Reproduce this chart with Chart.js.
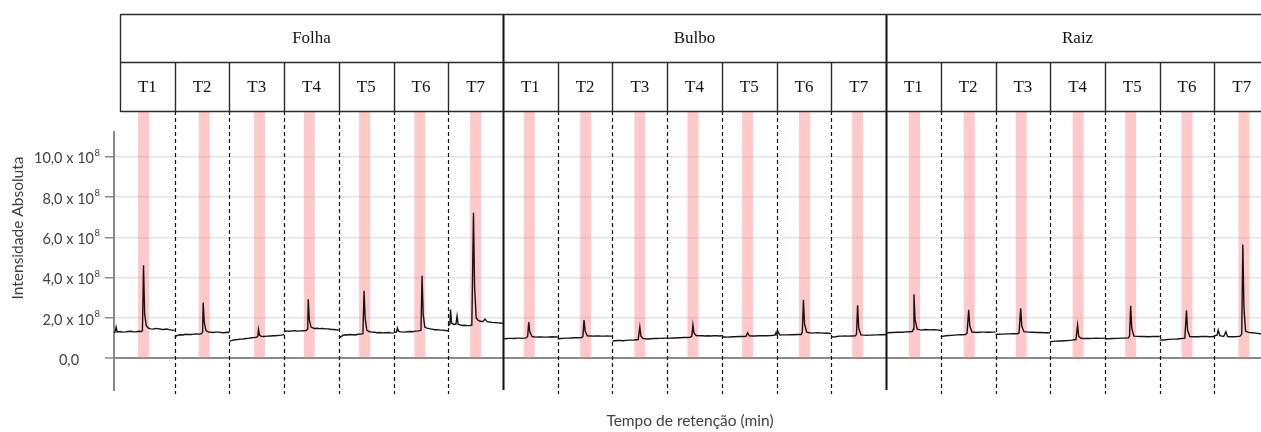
<!DOCTYPE html>
<html>
<head>
<meta charset="utf-8">
<script src="https://cdn.jsdelivr.net/npm/chart.js@4.4.1/dist/chart.umd.min.js"></script>
<style>
  html, body { margin: 0; padding: 0; background: #ffffff; }
  canvas { display: block; }
</style>
</head>
<body>
<canvas id="chrom" width="1261" height="432"></canvas>
<script>
// Sample groups and treatments (one retention-time window per treatment)
const groupNames = ['Folha', 'Bulbo', 'Raiz'];
const treatments = ['T1', 'T2', 'T3', 'T4', 'T5', 'T6', 'T7'];

// Y axis ticks (intensity in units of 10^8)
const yTickValues = [0, 2, 4, 6, 8, 10];
const yTickLabels = ['0,0', '2,0 x 10', '4,0 x 10', '6,0 x 10', '8,0 x 10', '10,0 x 10'];
const yTickExponent = '8';

// Highlighted retention window of the target compound (centre, inside each window 0–1)
const folhaBands = [0.43, 0.54, 0.55, 0.46, 0.47, 0.48, 0.50];
const bulboBands = [0.48, 0.51, 0.50, 0.47, 0.47, 0.51, 0.48];
const raizBands  = [0.52, 0.52, 0.47, 0.51, 0.47, 0.50, 0.54];

// Chromatogram traces: [position inside window, intensity x10^8]
const folhaTraces = [
  [[-0.11,1.25],[-0.09,1.30],[-0.07,1.55],[-0.05,1.30],[0.00,1.33],[0.05,1.30],[0.10,1.31],[0.15,1.33],[0.20,1.34],[0.25,1.31],[0.30,1.32],[0.35,1.34],[0.39,1.33],[0.41,1.36],[0.43,4.62],[0.45,2.20],[0.48,1.62],[0.52,1.50],[0.56,1.46],[0.60,1.45],[0.65,1.48],[0.70,1.47],[0.75,1.44],[0.80,1.43],[0.85,1.45],[0.90,1.42],[0.95,1.40],[1.00,1.38]],
  [[0.00,1.02],[0.03,1.12],[0.06,1.15],[0.10,1.17],[0.15,1.16],[0.20,1.19],[0.25,1.18],[0.30,1.18],[0.35,1.20],[0.40,1.21],[0.45,1.20],[0.49,1.22],[0.51,1.30],[0.52,2.76],[0.54,1.80],[0.57,1.38],[0.62,1.30],[0.66,1.29],[0.70,1.28],[0.75,1.30],[0.80,1.30],[0.85,1.28],[0.90,1.27],[0.95,1.29],[1.00,1.28]],
  [[0.00,0.85],[0.05,0.89],[0.10,0.92],[0.15,0.93],[0.20,0.95],[0.25,0.96],[0.30,0.98],[0.35,0.99],[0.40,1.02],[0.45,1.03],[0.50,1.05],[0.52,1.10],[0.53,1.43],[0.55,1.15],[0.58,1.09],[0.62,1.08],[0.70,1.10],[0.75,1.11],[0.80,1.12],[0.85,1.12],[0.90,1.14],[0.95,1.15],[1.00,1.18]],
  [[0.00,1.30],[0.02,1.36],[0.06,1.35],[0.10,1.34],[0.15,1.36],[0.20,1.37],[0.25,1.35],[0.30,1.36],[0.35,1.37],[0.40,1.38],[0.43,1.45],[0.44,2.93],[0.46,1.90],[0.49,1.55],[0.55,1.48],[0.60,1.49],[0.65,1.47],[0.70,1.48],[0.75,1.46],[0.80,1.46],[0.85,1.44],[0.90,1.43],[0.95,1.42],[1.00,1.40]],
  [[0.00,1.12],[0.03,1.05],[0.08,1.15],[0.12,1.17],[0.16,1.16],[0.20,1.18],[0.25,1.17],[0.30,1.16],[0.35,1.19],[0.40,1.20],[0.44,1.22],[0.46,3.35],[0.48,2.00],[0.51,1.40],[0.55,1.33],[0.60,1.30],[0.65,1.29],[0.70,1.27],[0.75,1.28],[0.80,1.26],[0.85,1.27],[0.90,1.28],[0.95,1.26],[1.00,1.25]],
  [[0.00,1.28],[0.05,1.30],[0.07,1.50],[0.09,1.35],[0.13,1.31],[0.20,1.30],[0.25,1.32],[0.30,1.33],[0.35,1.32],[0.40,1.35],[0.45,1.36],[0.50,1.38],[0.52,4.10],[0.54,2.20],[0.57,1.55],[0.61,1.50],[0.65,1.47],[0.70,1.45],[0.75,1.42],[0.80,1.42],[0.85,1.40],[0.90,1.40],[0.95,1.38],[1.00,1.37]],
  [[0.00,1.60],[0.03,1.70],[0.04,2.42],[0.06,1.75],[0.10,1.68],[0.14,1.70],[0.16,2.10],[0.18,1.68],[0.22,1.66],[0.25,1.63],[0.30,1.64],[0.35,1.62],[0.40,1.63],[0.43,1.65],[0.46,7.22],[0.48,3.50],[0.51,2.00],[0.54,1.90],[0.57,1.85],[0.63,1.82],[0.67,1.95],[0.71,1.82],[0.75,1.80],[0.80,1.78],[0.85,1.77],[0.90,1.76],[0.95,1.75],[1.00,1.73]]
];

const bulboTraces = [
  [[0.00,0.98],[0.05,0.97],[0.10,0.99],[0.15,0.99],[0.20,0.98],[0.25,1.00],[0.30,1.00],[0.35,0.99],[0.42,1.01],[0.45,1.08],[0.47,1.80],[0.49,1.30],[0.53,1.08],[0.60,1.05],[0.65,1.06],[0.70,1.06],[0.75,1.05],[0.80,1.05],[0.85,1.06],[0.90,1.07],[0.95,1.06],[1.00,1.06]],
  [[0.00,0.95],[0.05,0.98],[0.10,0.99],[0.15,1.00],[0.20,1.00],[0.25,1.01],[0.30,1.02],[0.37,1.02],[0.44,1.03],[0.46,1.10],[0.48,1.90],[0.50,1.35],[0.54,1.12],[0.60,1.11],[0.65,1.10],[0.70,1.11],[0.75,1.11],[0.80,1.10],[0.85,1.10],[0.90,1.11],[0.95,1.10],[1.00,1.10]],
  [[0.00,0.86],[0.05,0.87],[0.10,0.88],[0.15,0.88],[0.20,0.87],[0.25,0.89],[0.30,0.90],[0.35,0.90],[0.40,0.91],[0.47,0.93],[0.50,1.55],[0.52,1.10],[0.56,0.98],[0.60,0.97],[0.65,0.96],[0.70,0.97],[0.75,0.98],[0.80,0.98],[0.85,0.99],[0.90,0.99],[0.95,1.00],[1.00,1.00]],
  [[0.00,1.00],[0.05,1.00],[0.10,1.01],[0.15,1.01],[0.20,1.02],[0.25,1.02],[0.30,1.03],[0.36,1.03],[0.42,1.04],[0.45,1.10],[0.47,1.66],[0.49,1.25],[0.53,1.13],[0.60,1.12],[0.65,1.12],[0.70,1.11],[0.75,1.12],[0.80,1.11],[0.85,1.12],[0.90,1.12],[0.95,1.11],[1.00,1.12]],
  [[0.00,1.06],[0.05,1.06],[0.10,1.05],[0.15,1.06],[0.20,1.07],[0.25,1.07],[0.30,1.08],[0.37,1.08],[0.44,1.09],[0.47,1.27],[0.50,1.12],[0.55,1.11],[0.60,1.11],[0.67,1.12],[0.75,1.12],[0.82,1.12],[0.90,1.13],[0.97,1.15],[0.99,1.28],[1.00,1.14]],
  [[0.00,1.17],[0.03,1.30],[0.06,1.15],[0.10,1.16],[0.15,1.16],[0.20,1.16],[0.25,1.17],[0.30,1.17],[0.38,1.18],[0.45,1.18],[0.47,1.30],[0.49,2.90],[0.51,1.70],[0.55,1.30],[0.60,1.27],[0.65,1.25],[0.70,1.26],[0.75,1.27],[0.80,1.26],[0.85,1.25],[0.90,1.24],[0.95,1.24],[1.00,1.22]],
  [[0.00,1.08],[0.05,1.05],[0.10,1.08],[0.15,1.10],[0.20,1.10],[0.25,1.11],[0.30,1.10],[0.37,1.11],[0.44,1.12],[0.46,1.20],[0.48,2.63],[0.50,1.50],[0.54,1.16],[0.60,1.15],[0.65,1.14],[0.70,1.15],[0.75,1.15],[0.80,1.16],[0.85,1.16],[0.90,1.17],[0.95,1.17],[1.00,1.18]]
];

const raizTraces = [
  [[0.00,1.26],[0.05,1.27],[0.10,1.28],[0.15,1.28],[0.20,1.30],[0.25,1.29],[0.30,1.29],[0.36,1.31],[0.42,1.32],[0.48,1.33],[0.50,1.45],[0.51,3.18],[0.53,1.90],[0.57,1.45],[0.61,1.42],[0.65,1.40],[0.72,1.43],[0.76,1.42],[0.80,1.41],[0.85,1.42],[0.90,1.42],[0.95,1.40],[1.00,1.38]],
  [[0.00,1.07],[0.05,1.10],[0.10,1.12],[0.15,1.13],[0.20,1.14],[0.25,1.15],[0.30,1.16],[0.37,1.17],[0.45,1.18],[0.48,1.25],[0.51,2.40],[0.53,1.60],[0.57,1.30],[0.61,1.29],[0.65,1.28],[0.70,1.29],[0.75,1.30],[0.80,1.30],[0.85,1.29],[0.90,1.29],[0.95,1.30],[1.00,1.30]],
  [[0.00,1.18],[0.05,1.19],[0.10,1.20],[0.15,1.20],[0.20,1.21],[0.25,1.21],[0.32,1.22],[0.40,1.22],[0.43,1.25],[0.46,2.48],[0.48,1.60],[0.52,1.32],[0.56,1.31],[0.60,1.30],[0.67,1.29],[0.75,1.28],[0.82,1.28],[0.90,1.27],[0.95,1.27],[1.00,1.26]],
  [[0.00,0.82],[0.05,0.84],[0.10,0.85],[0.15,0.86],[0.20,0.86],[0.25,0.87],[0.32,0.88],[0.40,0.90],[0.47,0.93],[0.50,1.65],[0.52,1.10],[0.56,0.99],[0.62,0.98],[0.70,0.98],[0.77,0.99],[0.85,1.00],[0.92,0.99],[1.00,1.00]],
  [[0.00,0.96],[0.07,0.97],[0.15,0.98],[0.22,0.99],[0.30,1.00],[0.37,1.00],[0.43,1.01],[0.45,1.10],[0.47,2.60],[0.49,1.50],[0.53,1.10],[0.59,1.09],[0.65,1.08],[0.72,1.08],[0.80,1.07],[0.87,1.08],[0.94,1.08],[1.00,1.08]],
  [[0.00,0.90],[0.05,0.91],[0.10,0.92],[0.17,0.94],[0.25,0.95],[0.32,0.96],[0.40,0.98],[0.46,1.00],[0.49,2.38],[0.51,1.40],[0.55,1.08],[0.62,1.07],[0.70,1.07],[0.77,1.08],[0.85,1.08],[0.92,1.07],[1.00,1.08]],
  [[0.00,1.12],[0.05,1.15],[0.07,1.40],[0.10,1.12],[0.14,1.10],[0.17,1.08],[0.21,1.32],[0.24,1.08],[0.30,1.07],[0.35,1.07],[0.41,1.08],[0.47,1.10],[0.50,1.20],[0.52,5.65],[0.54,2.50],[0.57,1.35],[0.61,1.30],[0.65,1.28],[0.70,1.27],[0.75,1.25],[0.80,1.23],[0.85,1.22],[1.00,1.20]]
];

const allTraces = [folhaTraces, bulboTraces, raizTraces];
const allBands = [folhaBands, bulboBands, raizBands];
const windowsPerGroup = treatments.length;

// One line dataset per treatment window, placed side by side on the x axis
const datasets = [];
allTraces.forEach((group, g) => {
  group.forEach((trace, t) => {
    const offset = g * windowsPerGroup + t;
    datasets.push({
      label: groupNames[g] + ' ' + treatments[t],
      data: trace.map(p => ({ x: offset + p[0], y: p[1] })),
      borderColor: '#141414',
      borderWidth: 1.4,
      pointRadius: 0,
      tension: 0,
      fill: false
    });
  });
});

const HEADER_TOP = 14;
const HEADER_MID = 62;
const HEADER_BOTTOM = 111;
const SEPARATOR_BOTTOM = 394;

const chromatogramDecor = {
  id: 'chromatogramDecor',
  beforeDatasetsDraw(chart) {
    const { ctx, scales: { x, y } } = chart;
    const yZero = y.getPixelForValue(0);
    ctx.save();
    ctx.fillStyle = 'rgba(255, 120, 120, 0.40)';
    allBands.forEach((bands, g) => {
      bands.forEach((c, t) => {
        const offset = g * windowsPerGroup + t;
        const x0 = x.getPixelForValue(offset + c - 0.1);
        const x1 = x.getPixelForValue(offset + c + 0.1);
        ctx.fillRect(x0, HEADER_BOTTOM, x1 - x0, yZero - HEADER_BOTTOM);
      });
    });
    ctx.restore();
  },
  afterDraw(chart) {
    const { ctx, scales: { x, y }, chartArea } = chart;
    const total = groupNames.length * windowsPerGroup;
    const W = chart.width;
    ctx.save();

    // window separators: dashed between treatments, solid between groups
    for (let i = 1; i < total; i++) {
      const px = Math.round(x.getPixelForValue(i)) + 0.5;
      const isGroup = i % windowsPerGroup === 0;
      ctx.beginPath();
      if (isGroup) {
        ctx.setLineDash([]);
        ctx.lineWidth = 2;
        ctx.strokeStyle = '#111';
        ctx.moveTo(px, HEADER_TOP);
        ctx.lineTo(px, chartArea.bottom);
      } else {
        ctx.setLineDash([4, 3]);
        ctx.lineWidth = 1.2;
        ctx.strokeStyle = '#111';
        ctx.moveTo(px, HEADER_BOTTOM);
        ctx.lineTo(px, SEPARATOR_BOTTOM);
      }
      ctx.stroke();
    }
    ctx.setLineDash([]);

    // header table
    const left = Math.round(x.getPixelForValue(0)) + 0.5;
    ctx.strokeStyle = '#2a2a2a';
    ctx.lineWidth = 1.4;
    ctx.beginPath();
    [HEADER_TOP, HEADER_MID, HEADER_BOTTOM].forEach(yy => {
      ctx.moveTo(left, yy + 0.5);
      ctx.lineTo(W, yy + 0.5);
    });
    ctx.moveTo(left, HEADER_TOP);
    ctx.lineTo(left, HEADER_BOTTOM + 1);
    for (let i = 1; i < total; i++) {
      if (i % windowsPerGroup === 0) continue;
      const px = Math.round(x.getPixelForValue(i)) + 0.5;
      ctx.moveTo(px, HEADER_MID);
      ctx.lineTo(px, HEADER_BOTTOM + 1);
    }
    ctx.stroke();

    ctx.fillStyle = '#111';
    ctx.textAlign = 'center';
    ctx.textBaseline = 'middle';
    ctx.font = '17px "Liberation Serif", "Times New Roman", serif';
    groupNames.forEach((name, g) => {
      const cx = x.getPixelForValue(g * windowsPerGroup + windowsPerGroup / 2);
      ctx.fillText(name, cx, (HEADER_TOP + HEADER_MID) / 2 + 1);
    });
    for (let i = 0; i < total; i++) {
      const cx = x.getPixelForValue(i + 0.5);
      ctx.fillText(treatments[i % windowsPerGroup], cx, (HEADER_MID + HEADER_BOTTOM) / 2 + 1);
    }

    // y tick labels with exponent
    ctx.fillStyle = '#3c3f46';
    ctx.textBaseline = 'middle';
    yTickValues.forEach((v, i) => {
      const py = y.getPixelForValue(v) + 2;
      if (v === 0) {
        ctx.font = '14.5px Lato, "Open Sans", sans-serif';
        ctx.textAlign = 'center';
        ctx.fillText(yTickLabels[i], 69, py);
        return;
      }
      ctx.font = '9.5px Lato, "Open Sans", sans-serif';
      const supW = ctx.measureText(yTickExponent).width;
      const rightEdge = 100;
      ctx.textAlign = 'left';
      ctx.fillText(yTickExponent, rightEdge - supW, py - 6);
      ctx.font = '14.5px Lato, "Open Sans", sans-serif';
      ctx.textAlign = 'right';
      ctx.fillText(yTickLabels[i], rightEdge - supW - 0.5, py);
    });

    // axis titles
    ctx.font = '15.5px Lato, "Open Sans", sans-serif';
    ctx.textAlign = 'center';
    ctx.fillText('Tempo de retenção (min)', 690, 421);
    ctx.save();
    ctx.translate(18, 228);
    ctx.rotate(-Math.PI / 2);
    ctx.fillText('Intensidade Absoluta', 0, 0);
    ctx.restore();

    ctx.restore();
  }
};

new Chart(document.getElementById('chrom'), {
  type: 'line',
  data: { datasets },
  options: {
    responsive: false,
    animation: false,
    devicePixelRatio: 1,
    layout: { padding: { top: 132, bottom: 42, left: 0, right: 0 } },
    plugins: { legend: { display: false }, tooltip: { enabled: false } },
    scales: {
      x: {
        type: 'linear',
        min: -0.1096,
        max: 20.852,
        display: false
      },
      y: {
        type: 'linear',
        min: -1.572,
        max: 11.225,
        afterBuildTicks(scale) {
          scale.ticks = yTickValues.map(v => ({ value: v }));
        },
        afterFit(scale) {
          scale.width = 114;
        },
        ticks: { display: false },
        border: { display: true, color: '#8a8a8a', width: 2 },
        grid: {
          drawTicks: true,
          tickLength: 9,
          tickColor: '#8a8a8a',
          tickWidth: 1.5,
          color: ctx => (ctx.tick && ctx.tick.value === 0) ? '#8a8a8a' : '#e3e3e3',
          lineWidth: ctx => (ctx.tick && ctx.tick.value === 0) ? 2 : 1.5
        }
      }
    }
  },
  plugins: [chromatogramDecor]
});
</script>
</body>
</html>
